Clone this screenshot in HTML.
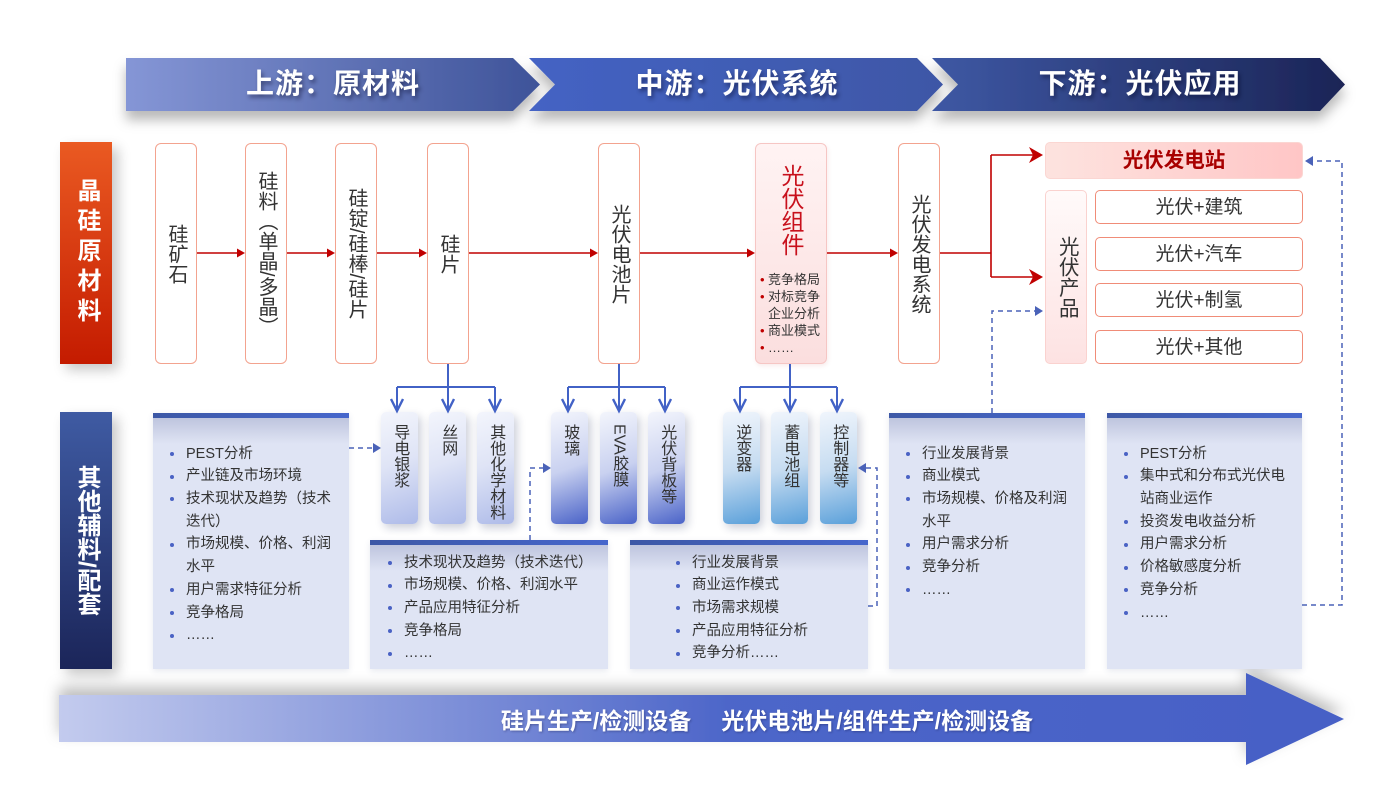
<!DOCTYPE html>
<html><head><meta charset="utf-8">
<style>
*{margin:0;padding:0;box-sizing:border-box}
body{width:1400px;height:788px;background:#fff;position:relative;overflow:hidden;font-family:"Liberation Sans","Noto Sans CJK SC",sans-serif;color:#333}
.v{writing-mode:vertical-rl;text-orientation:mixed}
.hdr{position:absolute;top:66px;height:36px;line-height:36px;font-size:28px;font-weight:bold;color:#fff;text-shadow:2px 3px 4px rgba(0,0,30,.45);letter-spacing:1px;text-align:center;width:320px}
.lbl{position:absolute;left:60px;width:52px;display:flex;align-items:center;justify-content:center;color:#fff;font-weight:bold;font-size:24px;line-height:1;box-shadow:6px 6px 12px rgba(0,0,0,.22)}
.topbox{position:absolute;top:143px;height:221px;width:42px;border:1.5px solid #f3a38f;border-radius:6px;background:#fff;display:flex;align-items:center;justify-content:center;font-size:20px;line-height:1;color:#333}
.sb{position:absolute;top:412px;height:112px;width:37px;border-radius:5px;display:flex;justify-content:center;align-items:flex-start;padding-top:12px;font-size:16px;line-height:15.5px;color:#333;box-shadow:3px 4px 9px rgba(20,30,80,.22)}
.g1{background:linear-gradient(160deg,#f3f5fc 0%,#dfe4f6 45%,#aebbe9 100%)}
.g2{background:linear-gradient(160deg,#f3f5fc 0%,#c9d1f0 50%,#4a63c8 100%)}
.g3{background:linear-gradient(165deg,#f0f5fc 0%,#c6dcf1 50%,#5aa0da 100%)}
.tb{position:absolute;background:#dfe4f4;box-shadow:0 2px 6px rgba(60,70,120,.12)}
.tb .bar{position:absolute;left:0;top:0;right:0;height:5px;background:linear-gradient(90deg,#3d58a6,#4666cc)}
.tb .sh{position:absolute;left:0;right:0;top:5px;height:26px;background:linear-gradient(180deg,rgba(150,158,195,.45),rgba(223,228,244,0))}
.tb .ct{position:absolute;font-size:14.5px;line-height:22.7px;color:#333;white-space:nowrap}
.tb .ct div{position:relative}
.tb .ct .b::before{content:"";position:absolute;left:-16px;top:9.4px;width:4px;height:4px;border-radius:50%;background:#4a62c4}
.pv{position:absolute;left:1095px;width:208px;height:34px;border:1.5px solid #f08c78;border-radius:5px;background:#fff;text-align:center;font-size:19px;line-height:33px;color:#333}
</style></head><body>

<svg width="1400" height="788" style="position:absolute;left:0;top:0">
<defs>
<linearGradient id="c1" x1="0" x2="1" y1="0" y2="0"><stop offset="0" stop-color="#8596d6"/><stop offset="1" stop-color="#3e5399"/></linearGradient>
<linearGradient id="c2" x1="0" x2="1" y1="0" y2="0"><stop offset="0" stop-color="#4463c4"/><stop offset="1" stop-color="#3e57a6"/></linearGradient>
<linearGradient id="c3" x1="0" x2="1" y1="0" y2="0"><stop offset="0" stop-color="#3e58a4"/><stop offset="1" stop-color="#1b2456"/></linearGradient>
<linearGradient id="ba" x1="59" x2="1344" y1="0" y2="0" gradientUnits="userSpaceOnUse"><stop offset="0" stop-color="#c3cbee"/><stop offset="0.52" stop-color="#4d66c9"/><stop offset="1" stop-color="#4660c6"/></linearGradient>
<filter id="sd" x="-5%" y="-30%" width="110%" height="190%"><feDropShadow dx="0" dy="9" stdDeviation="6" flood-color="#000" flood-opacity="0.28"/></filter>
<filter id="sdu" x="-5%" y="-60%" width="110%" height="200%"><feDropShadow dx="0" dy="-8" stdDeviation="7" flood-color="#000" flood-opacity="0.25"/></filter>
</defs>
<g filter="url(#sd)">
<polygon points="126,58 513,58 540,84.5 513,111 126,111" fill="url(#c1)"/>
<polygon points="529,58 917,58 943,84.5 917,111 529,111 555,84.5" fill="url(#c2)"/>
<polygon points="932,58 1320,58 1345,84.5 1320,111 932,111 958,84.5" fill="url(#c3)"/>
</g>
<polygon filter="url(#sdu)" points="59,695 1246,695 1246,673 1344,719 1246,765 1246,742 59,742" fill="url(#ba)"/>
</svg>

<div class="hdr" style="left:173px">上游：原材料</div>
<div class="hdr" style="left:577px">中游：光伏系统</div>
<div class="hdr" style="left:980px">下游：光伏应用</div>

<div class="lbl" style="top:142px;height:222px;background:linear-gradient(180deg,#ea5a22,#c41b00)"><span class="v" style="letter-spacing:6px">晶硅原材料</span></div>
<div class="lbl" style="top:412px;height:257px;background:linear-gradient(180deg,#3f5ba3,#1b2559)"><span class="v">其他辅料/配套</span></div>

<div class="topbox" style="left:155px"><span class="v">硅矿石</span></div>
<div class="topbox" style="left:245px"><span class="v">硅料（单晶/多晶）</span></div>
<div class="topbox" style="left:335px"><span class="v">硅锭/硅棒/硅片</span></div>
<div class="topbox" style="left:427px"><span class="v">硅片</span></div>
<div class="topbox" style="left:598px"><span class="v">光伏电池片</span></div>
<div class="topbox" style="left:898px"><span class="v">光伏发电系统</span></div>

<div style="position:absolute;left:755px;top:143px;width:72px;height:221px;border:1px solid #f6c6c4;border-radius:6px;background:linear-gradient(180deg,#fff3f3,#fbdede);box-shadow:1px 2px 4px rgba(200,100,100,.12)">
  <div class="v" style="position:absolute;left:23px;top:20px;font-size:23px;line-height:1;color:#c8101c">光伏组件</div>
  <div style="position:absolute;left:12px;top:127px;font-size:13px;line-height:17px;color:#333;white-space:nowrap">
    <div style="position:relative"><span style="position:absolute;left:-8px;top:0;color:#c00000">•</span>竞争格局</div>
    <div style="position:relative"><span style="position:absolute;left:-8px;top:0;color:#c00000">•</span>对标竞争</div>
    <div>企业分析</div>
    <div style="position:relative"><span style="position:absolute;left:-8px;top:0;color:#c00000">•</span>商业模式</div>
    <div style="position:relative"><span style="position:absolute;left:-8px;top:0;color:#c00000">•</span>……</div>
  </div>
</div>

<div style="position:absolute;left:1045px;top:142px;width:258px;height:37px;border-radius:5px;background:linear-gradient(90deg,#fde3df,#ffc6c6);border:1px solid #fbd6d2;text-align:center;font-size:20.5px;font-weight:bold;line-height:35px;color:#a80000">光伏发电站</div>
<div style="position:absolute;left:1045px;top:190px;width:42px;height:174px;border-radius:5px;border:1px solid #fad2cf;background:linear-gradient(180deg,#fffafa,#fde2e2);display:flex;align-items:center;justify-content:center;font-size:20.5px;line-height:1;color:#333"><span class="v">光伏产品</span></div>
<div class="pv" style="top:190px">光伏+建筑</div>
<div class="pv" style="top:237px">光伏+汽车</div>
<div class="pv" style="top:283px">光伏+制氢</div>
<div class="pv" style="top:330px">光伏+其他</div>

<div class="sb g1" style="left:381px"><span class="v">导电银浆</span></div>
<div class="sb g1" style="left:429px"><span class="v">丝网</span></div>
<div class="sb g1" style="left:477px"><span class="v">其他化学材料</span></div>
<div class="sb g2" style="left:551px"><span class="v">玻璃</span></div>
<div class="sb g2" style="left:600px"><span class="v">EVA胶膜</span></div>
<div class="sb g2" style="left:648px"><span class="v">光伏背板等</span></div>
<div class="sb g3" style="left:723px"><span class="v">逆变器</span></div>
<div class="sb g3" style="left:771px"><span class="v">蓄电池组</span></div>
<div class="sb g3" style="left:820px"><span class="v">控制器等</span></div>

<div class="tb" style="left:153px;top:413px;width:196px;height:256px"><div class="bar"></div><div class="sh"></div>
<div class="ct" style="left:33px;top:29.6px">
<div class="b">PEST分析</div><div class="b">产业链及市场环境</div><div class="b">技术现状及趋势（技术</div><div>迭代）</div><div class="b">市场规模、价格、利润</div><div>水平</div><div class="b">用户需求特征分析</div><div class="b">竞争格局</div><div class="b">……</div>
</div></div>

<div class="tb" style="left:370px;top:540px;width:238px;height:129px"><div class="bar"></div><div class="sh"></div>
<div class="ct" style="left:34px;top:11.6px">
<div class="b">技术现状及趋势（技术迭代）</div><div class="b">市场规模、价格、利润水平</div><div class="b">产品应用特征分析</div><div class="b">竞争格局</div><div class="b">……</div>
</div></div>

<div class="tb" style="left:630px;top:540px;width:238px;height:129px"><div class="bar"></div><div class="sh"></div>
<div class="ct" style="left:62px;top:11.6px">
<div class="b">行业发展背景</div><div class="b">商业运作模式</div><div class="b">市场需求规模</div><div class="b">产品应用特征分析</div><div class="b">竞争分析……</div>
</div></div>

<div class="tb" style="left:889px;top:413px;width:196px;height:256px"><div class="bar"></div><div class="sh"></div>
<div class="ct" style="left:33px;top:29.6px">
<div class="b">行业发展背景</div><div class="b">商业模式</div><div class="b">市场规模、价格及利润</div><div>水平</div><div class="b">用户需求分析</div><div class="b">竞争分析</div><div class="b">……</div>
</div></div>

<div class="tb" style="left:1107px;top:413px;width:195px;height:256px"><div class="bar"></div><div class="sh"></div>
<div class="ct" style="left:33px;top:29.6px">
<div class="b">PEST分析</div><div class="b">集中式和分布式光伏电</div><div>站商业运作</div><div class="b">投资发电收益分析</div><div class="b">用户需求分析</div><div class="b">价格敏感度分析</div><div class="b">竞争分析</div><div class="b">……</div>
</div></div>

<div style="position:absolute;left:467px;top:706px;width:600px;text-align:center;font-size:23px;font-weight:bold;line-height:30px;color:#fff;white-space:nowrap;text-shadow:1px 1px 2px rgba(0,0,40,.3)">硅片生产/检测设备<span style="display:inline-block;width:30px"></span>光伏电池片/组件生产/检测设备</div>

<svg width="1400" height="788" style="position:absolute;left:0;top:0;pointer-events:none">
<g stroke="#c00000" stroke-width="1.6" fill="none">
<path d="M197 253H239M287 253H329M377 253H421M469 253H592M640 253H749M827 253H892M940 253H991M991 155V277M991 155H1034M991 277H1034"/>
</g>
<g fill="#c00000">
<polygon points="237,248.5 245,253 237,257.5"/>
<polygon points="327,248.5 335,253 327,257.5"/>
<polygon points="419,248.5 427,253 419,257.5"/>
<polygon points="590,248.5 598,253 590,257.5"/>
<polygon points="747,248.5 755,253 747,257.5"/>
<polygon points="890,248.5 898,253 890,257.5"/>
<polygon points="1029,147 1043,155 1029,163 1033,155"/>
<polygon points="1029,269 1043,277 1029,285 1033,277"/>
</g>
<g stroke="#4262c6" stroke-width="2" fill="none">
<path d="M448 364V387M397 387H495M397 387V410M448 387V410M495 387V410"/>
<path d="M619 364V387M568 387H665M568 387V410M619 387V410M665 387V410"/>
<path d="M790 364V387M740 387H837M740 387V410M790 387V410M837 387V410"/>
</g>
<g stroke="#4262c6" stroke-width="2.4" fill="none" stroke-linejoin="miter">
<path d="M391 399L397 411L403 399M442 399L448 411L454 399M489 399L495 411L501 399"/>
<path d="M562 399L568 411L574 399M613 399L619 411L625 399M659 399L665 411L671 399"/>
<path d="M734 399L740 411L746 399M784 399L790 411L796 399M831 399L837 411L843 399"/>
</g>
<g stroke="#4a62b8" stroke-width="1.5" fill="none" stroke-dasharray="5 4">
<path d="M349 448H373"/>
<path d="M530 540V468H543"/>
<path d="M868 606H877V468H866"/>
<path d="M992 413V311H1035"/>
<path d="M1302 605H1342V161H1313"/>
</g>
<g fill="#4a62b8">
<polygon points="373,443 381,448 373,453"/>
<polygon points="543,463 551,468 543,473"/>
<polygon points="866,463 858,468 866,473"/>
<polygon points="1035,306 1043,311 1035,316"/>
<polygon points="1313,156 1305,161 1313,166"/>
</g>
</svg>
</body></html>
